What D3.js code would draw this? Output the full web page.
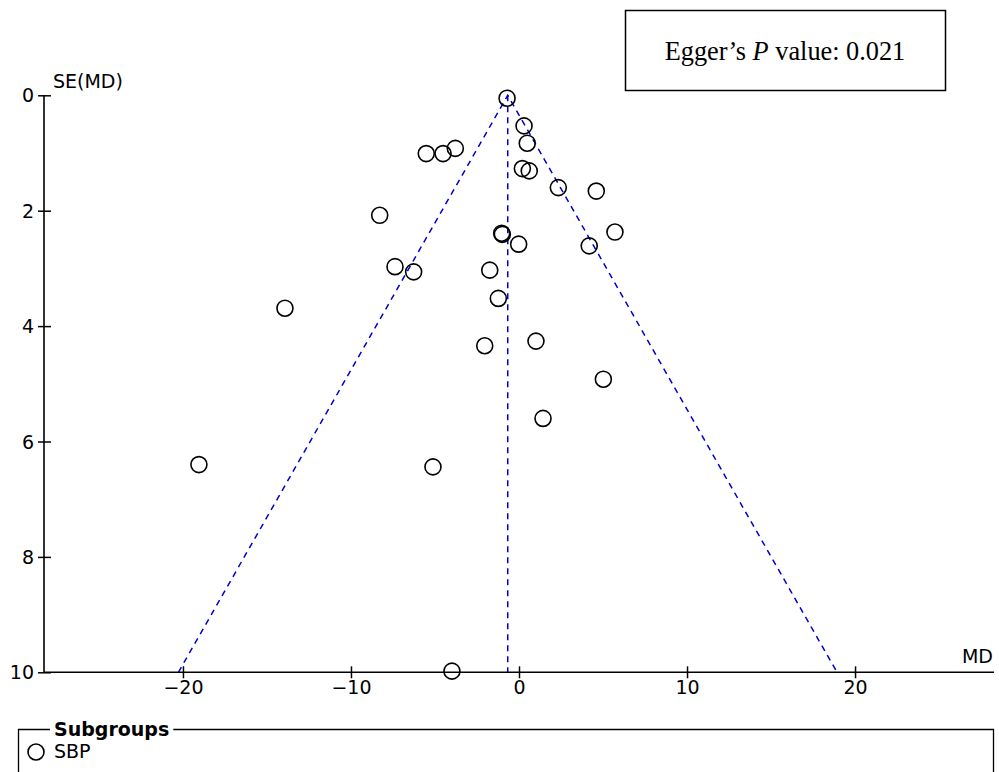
<!DOCTYPE html>
<html><head><meta charset="utf-8">
<script src="https://cdn.jsdelivr.net/npm/d3@7"></script>
<style>body{margin:0;background:#fff}svg{display:block}</style>
</head><body>
<script>
const md = [-0.71,0.30,0.49,0.20,0.61,2.34,4.60,-5.52,-4.52,-3.79,-8.29,-1.03,-0.99,-0.02,4.18,5.71,-7.38,-6.27,-1.74,-1.23,-13.93,-2.04,1.01,5.02,1.43,-19.05,-5.12,-3.99];
const se = [0.05,0.53,0.83,1.27,1.31,1.60,1.66,1.01,1.01,0.92,2.08,2.39,2.41,2.58,2.61,2.37,2.97,3.06,3.03,3.52,3.69,4.34,4.26,4.92,5.60,6.40,6.44,9.98];
const xTicks = [-20,-10,0,10,20];
const yTicks = [0,2,4,6,8,10];
const pooled = -0.67;
const seMax = 10;
const eggerP = "0.021";
const subgroup = "SBP";

const W=999,H=772;
const svg=d3.select("body").append("svg").attr("width",W).attr("height",H);
const font="'DejaVu Sans', Verdana, sans-serif";
const fs=19;
const x=d3.scaleLinear().domain([-28.27,28.27]).range([44,994]);
const y=d3.scaleLinear().domain([0,10]).range([95.3,672.3]);

// funnel
const blue="#0000cc";
const funnel=[[pooled-1.96*seMax,seMax],[pooled,0],[pooled+1.96*seMax,seMax]];
svg.append("path").attr("d",d3.line().x(d=>x(d[0])).y(d=>y(d[1]))(funnel))
  .attr("fill","none").attr("stroke",blue).attr("stroke-width",1.5).attr("stroke-dasharray","6,5");
svg.append("line").attr("x1",x(pooled)).attr("x2",x(pooled)).attr("y1",y(0)).attr("y2",y(seMax))
  .attr("stroke",blue).attr("stroke-width",1.5).attr("stroke-dasharray","6,5");

// axes
const xAxis=d3.axisBottom(x).tickValues(xTicks).tickSize(0).tickFormat(d=>d<0?"\u2212"+Math.abs(d):d);
const gx=svg.append("g").attr("transform",`translate(0,${y(10)})`).call(xAxis);
gx.select(".domain").remove();
svg.append("line").attr("x1",44).attr("x2",994).attr("y1",y(10)).attr("y2",y(10)).attr("stroke","#000").attr("stroke-width",1.6);
gx.selectAll(".tick line").remove();
gx.selectAll(".tick").append("line").attr("y1",-6).attr("y2",6).attr("stroke","#000").attr("stroke-width",1.5);
gx.selectAll(".tick text").attr("dy",0).attr("y",22).attr("font-family",font).attr("font-size",fs).attr("fill","#000");

const yAxis=d3.axisLeft(y).tickValues(yTicks).tickSize(0);
const gy=svg.append("g").attr("transform",`translate(44,0)`).call(yAxis);
gy.select(".domain").remove();
svg.append("line").attr("x1",44).attr("x2",44).attr("y1",y(0)).attr("y2",y(10)).attr("stroke","#000").attr("stroke-width",1.6);
gy.selectAll(".tick line").remove();
gy.selectAll(".tick").append("line").attr("x1",-6).attr("x2",7).attr("stroke","#000").attr("stroke-width",1.5);
gy.selectAll(".tick text").attr("x",-10).attr("dy","0.35em").attr("font-family",font).attr("font-size",fs).attr("fill","#000");

svg.append("text").attr("x",53).attr("y",88).attr("font-family",font).attr("font-size",fs).text("SE(MD)");
svg.append("text").attr("x",993).attr("y",663).attr("text-anchor","end").attr("font-family",font).attr("font-size",fs).text("MD");

// points
svg.append("g").selectAll("circle").data(md.map((m,i)=>[m,se[i]])).join("circle")
  .attr("cx",d=>x(d[0])).attr("cy",d=>y(d[1])).attr("r",8)
  .attr("fill","none").attr("stroke","#000").attr("stroke-width",1.6);

// Egger box
svg.append("rect").attr("x",625.5).attr("y",10.5).attr("width",320).attr("height",80)
  .attr("fill","#fff").attr("stroke","#000").attr("stroke-width",1.5);
const et=svg.append("text").attr("x",785).attr("y",60).attr("text-anchor","middle")
  .attr("font-family","'Liberation Serif','Times New Roman',serif").attr("font-size",26.3);
et.append("tspan").text("Egger\u2019s ");
et.append("tspan").attr("font-style","italic").text("P");
et.append("tspan").text(" value: "+eggerP);

// legend
const ly=729.5;
const lt=svg.append("text").attr("x",54).attr("y",ly+6).attr("font-family",font).attr("font-size",fs).attr("font-weight","bold").text("Subgroups");
const bb=lt.node().getBBox();
svg.append("path").attr("d",`M${bb.x-4},${ly} H18.5 V${H+10} M${bb.x+bb.width+4},${ly} H993.5 V${H+10}`)
  .attr("fill","none").attr("stroke","#000").attr("stroke-width",1.3);
svg.append("circle").attr("cx",36).attr("cy",752).attr("r",8).attr("fill","none").attr("stroke","#000").attr("stroke-width",1.6);
svg.append("text").attr("x",54).attr("y",758).attr("font-family",font).attr("font-size",fs).text(subgroup);
</script>
</body></html>
